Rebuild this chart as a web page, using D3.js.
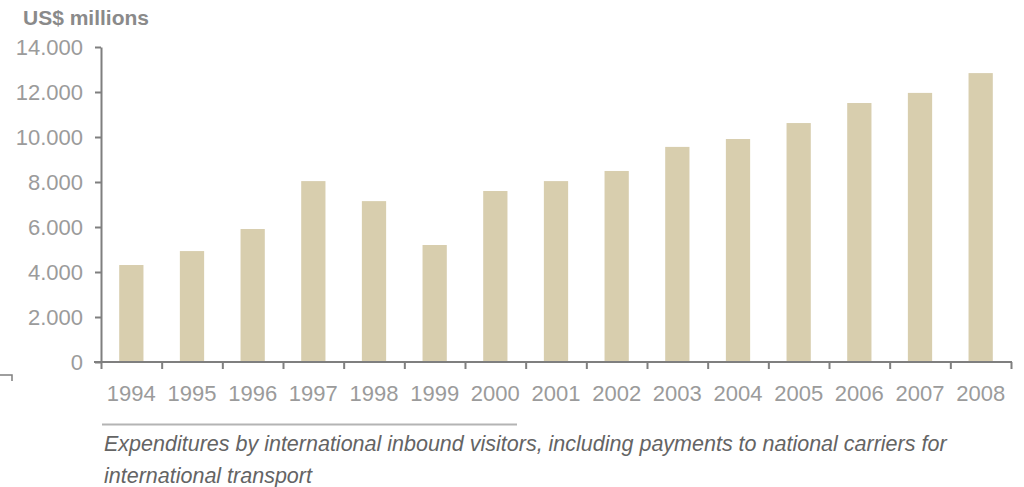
<!DOCTYPE html>
<html>
<head>
<meta charset="utf-8">
<script src="https://cdn.jsdelivr.net/npm/d3@7"></script>
<style>
  html, body { margin: 0; padding: 0; background: #fff; }
  svg { display: block; }
  text { font-family: "Liberation Sans", Arial, sans-serif; }
</style>
</head>
<body>
<svg id="chart" width="1024" height="487"></svg>
<script>
// Inbound tourism expenditures, US$ millions
const years = ["1994","1995","1996","1997","1998","1999","2000","2001","2002","2003","2004","2005","2006","2007","2008"];
const expenditures = [4310, 4930, 5910, 8040, 7150, 5200, 7600, 8040, 8490, 9560, 9910, 10620, 11510, 11960, 12840];
const yTicks = [0, 2000, 4000, 6000, 8000, 10000, 12000, 14000];
const unitLabel = "US$ millions";
const captionLines = [
  "Expenditures by international inbound visitors, including payments to national carriers for",
  "international transport"
];

const svg = d3.select("#chart");
const plot = { left: 101, right: 1011, top: 47, bottom: 362 };
const axisColor = "#7f7f7f";
const labelColor = "#9b9b9b";

const locale = d3.formatLocale({ decimal: ",", thousands: ".", grouping: [3], currency: ["$", ""] });
const fmt = locale.format(",");

const y = d3.scaleLinear().domain([0, 14000]).range([plot.bottom, plot.top]);
const xBand = d3.scaleBand().domain(years).range([plot.left, plot.right]);
const xBar = d3.scaleBand().domain(years).range([plot.left, plot.right]).paddingInner(0.6).paddingOuter(0.3);
const xEdge = d3.scaleLinear().domain([0, years.length]).range([plot.left, plot.right]);

// bars
svg.append("g").selectAll("rect")
  .data(years)
  .join("rect")
  .attr("x", d => xBar(d))
  .attr("width", xBar.bandwidth())
  .attr("y", (d, i) => y(expenditures[i]))
  .attr("height", (d, i) => y(0) - y(expenditures[i]))
  .attr("fill", "#d8ceae");

// y axis
const gy = svg.append("g")
  .attr("transform", `translate(${plot.left},0)`)
  .call(d3.axisLeft(y).tickValues(yTicks).tickFormat(fmt).tickSize(6).tickSizeOuter(0).tickPadding(12));
gy.select(".domain").attr("stroke", axisColor).attr("stroke-width", 2);
gy.selectAll(".tick line").attr("stroke", axisColor).attr("stroke-width", 2);
gy.selectAll(".tick text").attr("fill", labelColor).style("font-size", "22px");

// x axis line with ticks at category boundaries
const gxTicks = svg.append("g")
  .attr("transform", `translate(0,${plot.bottom})`)
  .call(d3.axisBottom(xEdge).tickValues(d3.range(years.length + 1)).tickFormat("").tickSize(7).tickSizeOuter(0));
gxTicks.select(".domain").attr("stroke", axisColor).attr("stroke-width", 2).attr("d", `M${plot.left - 7},0H${plot.right + 1}`);
gxTicks.selectAll(".tick line").attr("stroke", axisColor).attr("stroke-width", 2);

// year labels
const gx = svg.append("g")
  .attr("transform", `translate(0,${plot.bottom})`)
  .call(d3.axisBottom(xBand).tickSize(0).tickPadding(23));
gx.select(".domain").remove();
gx.selectAll(".tick text").attr("fill", labelColor).style("font-size", "22px");

// unit label
svg.append("text")
  .attr("x", 23).attr("y", 25)
  .attr("fill", "#8a8a8a")
  .style("font-size", "21px").style("font-weight", "bold")
  .text(unitLabel);

// small corner mark
svg.append("path")
  .attr("d", "M0,375H12V381")
  .attr("fill", "none").attr("stroke", axisColor).attr("stroke-width", 1.5);

// caption
svg.append("line")
  .attr("x1", 102).attr("x2", 517).attr("y1", 424.5).attr("y2", 424.5)
  .attr("stroke", "#b4b4b4").attr("stroke-width", 2);
svg.append("g").selectAll("text")
  .data(captionLines)
  .join("text")
  .attr("x", 104)
  .attr("y", (d, i) => 451 + i * 32)
  .attr("fill", "#646464")
  .style("font-size", "21.5px").style("font-style", "italic")
  .text(d => d);
</script>
</body>
</html>
